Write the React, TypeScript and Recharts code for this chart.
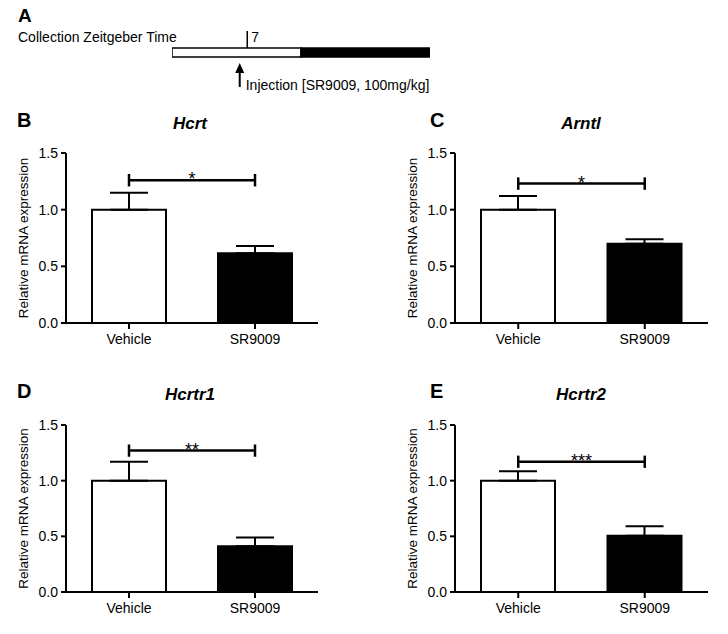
import React from 'react';
import { BarChart, Bar, XAxis, YAxis, Cell, ErrorBar, ReferenceLine } from 'recharts';

const groups = ['Vehicle', 'SR9009'];
const genes = ['Hcrt', 'Arntl', 'Hcrtr1', 'Hcrtr2'];
const panelLetters = ['B', 'C', 'D', 'E'];

const hcrtMean = [1.0, 0.615];
const hcrtSem = [0.15, 0.065];
const arntlMean = [1.0, 0.7];
const arntlSem = [0.12, 0.04];
const hcrtr1Mean = [1.0, 0.41];
const hcrtr1Sem = [0.17, 0.08];
const hcrtr2Mean = [1.0, 0.505];
const hcrtr2Sem = [0.085, 0.085];

const sigLabels = ['*', '*', '**', '***'];
const bracketLevels = [1.26, 1.23, 1.27, 1.17];
const yTicks = [0, 0.5, 1.0, 1.5];

// panel A: zeitgeber timeline (hours)
const lightHours = 12;
const darkHours = 12;
const collectionZT = 7;
const injectionZT = 6.3;

const FONT = '"Liberation Sans", Arial, Helvetica, sans-serif';
const CAP = 0.055;

const allMeans = [hcrtMean, arntlMean, hcrtr1Mean, hcrtr2Mean];
const allSems = [hcrtSem, arntlSem, hcrtr1Sem, hcrtr2Sem];

// where each panel sits on the page
const panelBoxes = [
  { left: 0, top: 140, plotH: 170, right: 12, letterX: 17, titleX: 190, titleY: 129 },
  { left: 389, top: 140, plotH: 170, right: 11, letterX: 430, titleX: 581, titleY: 129 },
  { left: 0, top: 412, plotH: 167, right: 12, letterX: 17, titleX: 190, titleY: 400 },
  { left: 389, top: 412, plotH: 167, right: 11, letterX: 430, titleX: 581, titleY: 400 },
];

const YLabel = (props: any) => {
  const { x, y, width, height } = props.viewBox;
  const cx = x + width - 43;
  const cy = y + height / 2;
  return (
    <text
      x={cx}
      y={cy}
      transform={`rotate(-90 ${cx} ${cy})`}
      textAnchor="middle"
      dominantBaseline="central"
      fontSize={13.5}
      fontFamily={FONT}
      fill="#000"
    >
      Relative mRNA expression
    </text>
  );
};

const ExpressionPanel = ({ idx }: { idx: number }) => {
  const box = panelBoxes[idx];
  const data = groups.map((g, i) => ({
    group: g,
    value: allMeans[idx][i],
    err: [0, allSems[idx][i]],
  }));
  const b = bracketLevels[idx];
  const top = 13;
  return (
    <div style={{ position: 'absolute', left: box.left, top: box.top }}>
      <BarChart
        width={330}
        height={top + box.plotH + 30}
        data={data}
        margin={{ top, right: box.right, left: 0, bottom: 0 }}
        barSize={74}
      >
        <XAxis
          dataKey="group"
          height={30}
          axisLine={{ stroke: '#000', strokeWidth: 2 }}
          tickLine={{ stroke: '#000', strokeWidth: 2 }}
          tickSize={6}
          tickMargin={5}
          tick={{ fill: '#000', fontSize: 14, fontFamily: FONT }}
        />
        <YAxis
          width={66}
          domain={[0, 1.5]}
          ticks={yTicks}
          interval={0}
          tickFormatter={(v: number) => v.toFixed(1)}
          axisLine={{ stroke: '#000', strokeWidth: 2 }}
          tickLine={{ stroke: '#000', strokeWidth: 2 }}
          tickSize={5}
          tickMargin={3}
          tick={{ fill: '#000', fontSize: 14, fontFamily: FONT }}
          label={<YLabel />}
        />
        <Bar dataKey="value" stroke="#000" strokeWidth={2} isAnimationActive={false}>
          {data.map((d, i) => (
            <Cell key={d.group} fill={i === 0 ? '#fff' : '#000'} stroke="#000" strokeWidth={2} />
          ))}
          <ErrorBar
            dataKey="err"
            width={19}
            stroke="#000"
            strokeWidth={2}
            direction="y"
            isAnimationActive={false}
          />
        </Bar>
        <ReferenceLine
          segment={[{ x: groups[0], y: b }, { x: groups[1], y: b }]}
          stroke="#000"
          strokeWidth={2.5}
          label={{ value: sigLabels[idx], position: 'top', offset: -5, fontSize: 18, fill: '#000', fontFamily: FONT }}
        />
        <ReferenceLine
          segment={[{ x: groups[0], y: b - CAP }, { x: groups[0], y: b + CAP }]}
          stroke="#000"
          strokeWidth={2.5}
        />
        <ReferenceLine
          segment={[{ x: groups[1], y: b - CAP }, { x: groups[1], y: b + CAP }]}
          stroke="#000"
          strokeWidth={2.5}
        />
      </BarChart>
    </div>
  );
};

const CollectionTick = (p: any) => {
  const yTop = Math.min(p.y1, p.y2);
  const mid = (p.y1 + p.y2) / 2;
  return (
    <g>
      <line x1={p.x1} y1={yTop} x2={p.x1} y2={mid - 4.5} stroke="#000" strokeWidth={1.5} />
      <text x={p.x1 + 4} y={yTop + 11} fontSize={14} fontFamily={FONT} fill="#000">
        {collectionZT}
      </text>
    </g>
  );
};

const InjectionArrow = (p: any) => {
  const mid = (p.y1 + p.y2) / 2;
  const x = p.x1;
  const tip = mid + 10.5;
  return (
    <g>
      <line x1={x} y1={tip + 6} x2={x} y2={mid + 34.5} stroke="#000" strokeWidth={2} />
      <path d={`M${x},${tip} L${x - 4.5},${tip + 10} L${x + 4.5},${tip + 10} Z`} fill="#000" />
      <text x={x + 6} y={mid + 37.5} fontSize={14} fontFamily={FONT} fill="#000">
        Injection [SR9009, 100mg/kg]
      </text>
    </g>
  );
};

const TimelinePanel = () => {
  const timeline = [{ row: 'ZT', light: lightHours, dark: darkHours }];
  return (
    <div style={{ position: 'absolute', left: 172, top: 19 }}>
      <BarChart
        layout="vertical"
        width={258}
        height={78}
        data={timeline}
        margin={{ top: 12, right: 0, left: 0, bottom: 23 }}
        barSize={9}
        style={{ overflow: 'visible' }}
      >
        <XAxis type="number" domain={[0, lightHours + darkHours]} hide />
        <YAxis type="category" dataKey="row" hide />
        <Bar dataKey="light" stackId="t" fill="#fff" stroke="#000" strokeWidth={1.5} isAnimationActive={false} />
        <Bar dataKey="dark" stackId="t" fill="#000" stroke="#000" strokeWidth={1.5} isAnimationActive={false} />
        <ReferenceLine x={collectionZT} shape={CollectionTick} />
        <ReferenceLine x={injectionZT} shape={InjectionArrow} />
      </BarChart>
    </div>
  );
};

export default function App() {
  return (
    <div
      style={{
        position: 'absolute',
        left: 0,
        top: 0,
        width: 728,
        height: 634,
        background: '#fff',
        fontFamily: FONT,
      }}
    >
      <svg width={728} height={634} style={{ position: 'absolute', left: 0, top: 0 }}>
        <text x={18} y={22} fontSize={19} fontWeight="bold" fontFamily={FONT} fill="#000">
          A
        </text>
        <text x={18} y={42} fontSize={14} fontFamily={FONT} fill="#000">
          Collection Zeitgeber Time
        </text>
        {panelBoxes.map((box, i) => (
          <g key={genes[i]}>
            <text x={box.letterX} y={box.titleY - 2} fontSize={20} fontWeight="bold" fontFamily={FONT} fill="#000">
              {panelLetters[i]}
            </text>
            <text
              x={box.titleX}
              y={box.titleY}
              fontSize={17}
              fontWeight="bold"
              fontStyle="italic"
              textAnchor="middle"
              fontFamily={FONT}
              fill="#000"
            >
              {genes[i]}
            </text>
          </g>
        ))}
      </svg>
      <TimelinePanel />
      {panelBoxes.map((_, i) => (
        <ExpressionPanel key={genes[i]} idx={i} />
      ))}
    </div>
  );
}
